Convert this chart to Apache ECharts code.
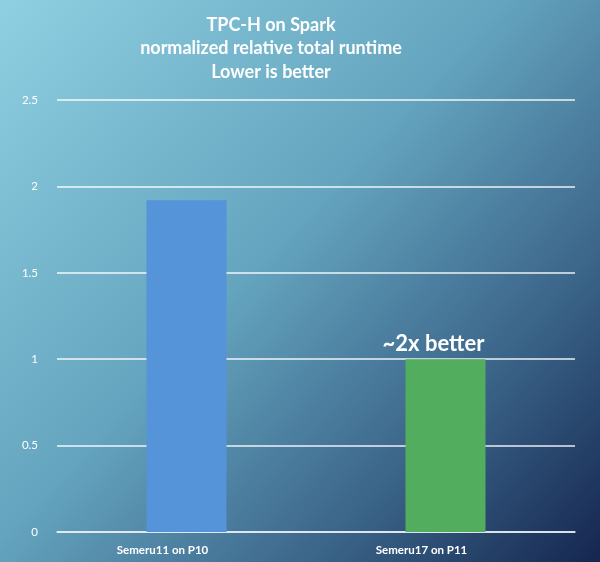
<!DOCTYPE html>
<html lang="en">
<head>
  <meta charset="UTF-8" />
  <title>TPC-H on Spark</title>
  <style>
    * { padding: 0; margin: 0; }
    html, body { width: 100%; height: 100%; }
    #chart { width: 600px; height: 562px; }
  </style>
</head>
<body>
  <div id="chart"></div>
  <script src="https://cdn.jsdelivr.net/npm/echarts@6/dist/echarts.min.js"></script>
  <script>
    // data
    var categories = ['Semeru11 on P10', 'Semeru17 on P11']
    var runtimes = [1.92, 1.0]
    var barColors = ['#5594d8', '#52ad5e']
    var notes = ['', '~2x better']

    var titleText = 'TPC-H on Spark\nnormalized relative total runtime\nLower is better'
    var fontFam = 'Lato, "DejaVu Sans", sans-serif'

    var myChart = echarts.init(document.getElementById('chart'))

    var barData = runtimes.map(function (v, i) {
      var item = { value: v, itemStyle: { color: barColors[i] } }
      if (notes[i]) {
        item.label = {
          show: true,
          position: 'top',
          distance: 4,
          offset: [-12, 0],
          formatter: notes[i],
          color: '#fff',
          fontSize: 22,
          fontWeight: 'bold',
          fontFamily: fontFam
        }
      }
      return item
    })

    var option = {
      backgroundColor: new echarts.graphic.LinearGradient(0, 0, 1, 1, [
        { offset: 0, color: '#8fd0e2' },
        { offset: 0.45, color: '#64a4be' },
        { offset: 0.75, color: '#3a6388' },
        { offset: 1, color: '#15264f' }
      ]),
      title: {
        text: titleText,
        left: 266,
        top: 8,
        textAlign: 'center',
        textStyle: {
          color: '#fff',
          fontSize: 18,
          fontWeight: 'bold',
          lineHeight: 23.5,
          fontFamily: fontFam
        }
      },
      grid: { left: 57, right: 25, top: 100, bottom: 30 },
      xAxis: {
        type: 'category',
        data: categories,
        axisTick: { show: false },
        axisLine: { lineStyle: { color: '#e8eef5', width: 1.5 } },
        axisLabel: {
          color: '#fff',
          fontSize: 11.5,
          fontWeight: 'bold',
          fontFamily: fontFam,
          margin: 12,
          padding: [0, 48, 0, 0]
        }
      },
      yAxis: {
        type: 'value',
        min: 0,
        max: 2.5,
        interval: 0.5,
        axisLine: { show: false },
        axisTick: { show: false },
        splitLine: { lineStyle: { color: '#ffffff', width: 1.5, opacity: 0.9 } },
        axisLabel: {
          color: '#fff',
          fontSize: 11.5,
          fontFamily: fontFam,
          margin: 19
        }
      },
      series: [{
        type: 'bar',
        data: barData,
        barWidth: 80,
        animation: false
      }]
    }
    myChart.setOption(option)
    window.addEventListener('resize', function () { myChart.resize() })
  </script>
</body>
</html>
